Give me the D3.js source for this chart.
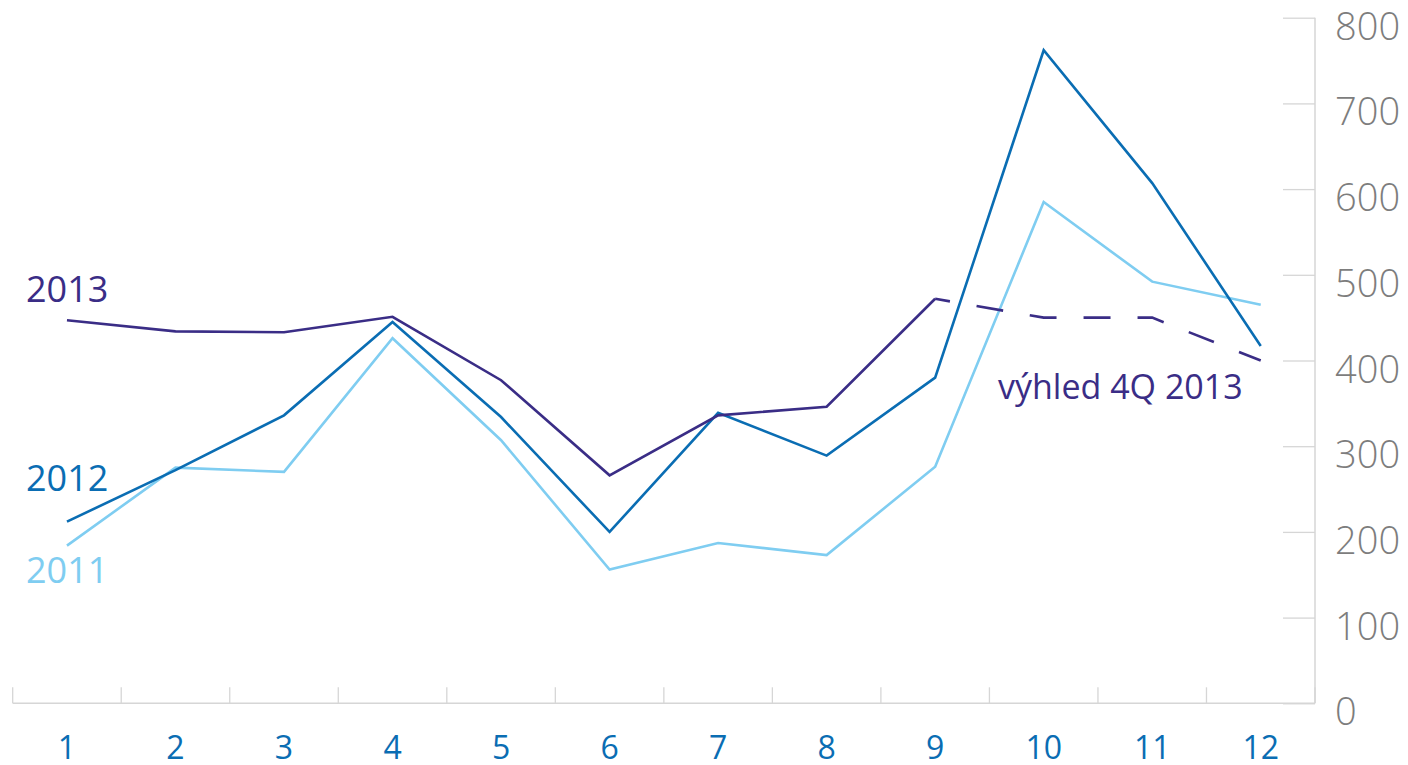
<!DOCTYPE html>
<html>
<head>
<meta charset="utf-8">
<script src="https://cdn.jsdelivr.net/npm/d3@7"></script>
<style>
  html, body { margin: 0; padding: 0; background: #fff; }
  svg { display: block; }
</style>
</head>
<body>
<svg id="chart" width="1408" height="765"></svg>
<script>
// Months of the year
const months = [1, 2, 3, 4, 5, 6, 7, 8, 9, 10, 11, 12];
// Monthly values per year
const values2011 = [184, 275, 270, 426, 307, 156, 187, 173, 276, 585, 492, 465];
const values2012 = [212, 272, 336, 445, 334, 200, 339, 289, 380, 762, 607, 417];
const values2013 = [447, 434, 433, 451, 377, 266, 336, 346, 472, null, null, null];
// Outlook for the last quarter of 2013 (starts from September actual)
const outlook2013 = [null, null, null, null, null, null, null, null, 472, 450, 450, 400];
const yTicks = [0, 100, 200, 300, 400, 500, 600, 700, 800];

const seriesLabels = ["2013", "2012", "2011"];
const outlookLabel = "výhled 4Q 2013";

const colors = { c2011: "#7fcdf1", c2012: "#0a6db3", c2013: "#3a2d86", axis: "#d6d6d6", yText: "#7d7d7d" };

const svg = d3.select("#chart");
const plotLeft = 12.7, plotRight = 1315, plotTop = 17.7, plotBottom = 703.3;

const x = d3.scaleBand().domain(months).range([plotLeft, plotRight]).paddingInner(0).paddingOuter(0);
const y = d3.scaleLinear().domain([0, 800]).range([plotBottom, plotTop]);
const cx = m => x(m) + x.bandwidth() / 2;

// Short gridline ticks pointing into the plot from the right axis
const yAxis = d3.axisLeft(y).tickValues(yTicks).tickSize(32).tickFormat("");
const gy = svg.append("g").attr("transform", `translate(${plotRight},0)`).call(yAxis);
gy.select(".domain").remove();
gy.selectAll(".tick line").attr("stroke", colors.axis).attr("stroke-width", 1.3);
svg.append("line").attr("x1", plotRight).attr("x2", plotRight).attr("y1", y(800)).attr("y2", y(0))
  .attr("stroke", colors.axis).attr("stroke-width", 1.5);

// Y labels
svg.append("g").selectAll("text").data(yTicks).join("text")
  .attr("x", 1335).attr("y", d => y(d) + 22)
  .attr("font-family", "'Open Sans', sans-serif").attr("font-weight", 300)
  .attr("font-size", 38).attr("fill", colors.yText)
  .text(d => d);

// Bottom axis with ticks at band boundaries
svg.append("line").attr("x1", plotLeft).attr("x2", plotRight).attr("y1", plotBottom).attr("y2", plotBottom)
  .attr("stroke", colors.axis).attr("stroke-width", 1.5);
const bounds = months.map(m => x(m)).concat([plotRight]);
svg.append("g").selectAll("line").data(bounds).join("line")
  .attr("x1", d => d).attr("x2", d => d).attr("y1", plotBottom).attr("y2", plotBottom - 16)
  .attr("stroke", colors.axis).attr("stroke-width", 1.3);

const gx = svg.append("g").attr("transform", `translate(0,${plotBottom})`)
  .call(d3.axisBottom(x).tickSize(0).tickPadding(0));
gx.select(".domain").remove();
gx.selectAll("text")
  .attr("y", 56).attr("dy", 0)
  .attr("font-family", "'Open Sans', sans-serif").attr("font-size", 32)
  .attr("font-weight", 500)
  .attr("fill", colors.c2012);

// Lines
const line = d3.line().defined(d => d.v != null).x(d => cx(d.m)).y(d => y(d.v));
const toPts = arr => months.map((m, i) => ({ m, v: arr[i] }));

svg.append("path").datum(toPts(values2011)).attr("d", line)
  .attr("fill", "none").attr("stroke", colors.c2011).attr("stroke-width", 2.6);
svg.append("path").datum(toPts(values2012)).attr("d", line)
  .attr("fill", "none").attr("stroke", colors.c2012).attr("stroke-width", 2.6);
svg.append("path").datum(toPts(values2013)).attr("d", line)
  .attr("fill", "none").attr("stroke", colors.c2013).attr("stroke-width", 2.6);
svg.append("path").datum(toPts(outlook2013)).attr("d", line)
  .attr("fill", "none").attr("stroke", colors.c2013).attr("stroke-width", 2.6)
  .attr("stroke-dasharray", "27,27").attr("stroke-dashoffset", 12);

// Series labels
const labelFont = "'Open Sans', sans-serif";
const lbl = svg.append("g").attr("font-family", labelFont).attr("font-size", 36);
lbl.append("text").attr("x", 26).attr("y", 302).attr("fill", colors.c2013).text(seriesLabels[0]);
lbl.append("text").attr("x", 26).attr("y", 491).attr("fill", colors.c2012).text(seriesLabels[1]);
lbl.append("text").attr("x", 26).attr("y", 583).attr("fill", colors.c2011).text(seriesLabels[2]);
svg.append("text").attr("x", 998).attr("y", 399)
  .attr("font-family", labelFont).attr("font-size", 34).attr("fill", colors.c2013)
  .text(outlookLabel);
</script>
</body>
</html>
